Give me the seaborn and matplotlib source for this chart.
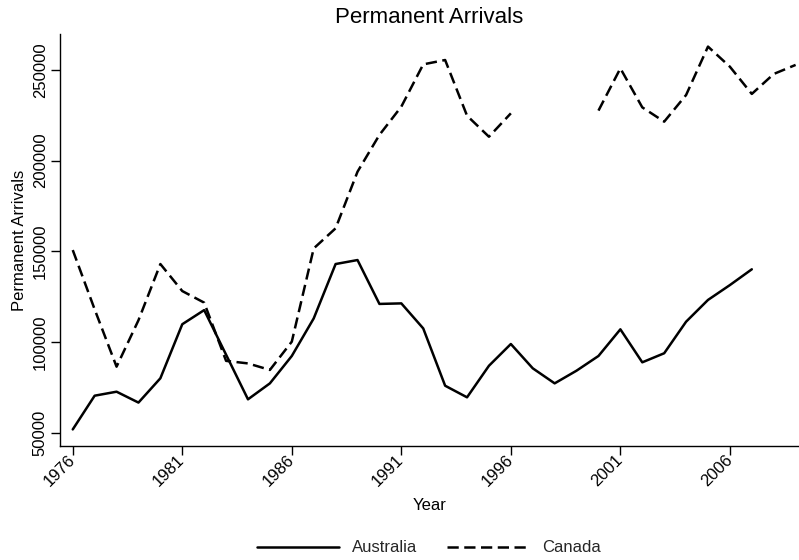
import matplotlib

matplotlib.use("Agg")
import matplotlib.pyplot as plt
import numpy as np
import pandas as pd
import seaborn as sns

# --- data -------------------------------------------------------------------
years = list(range(1976, 2010))
australia = [
    51800, 70400, 72600, 66600, 80000, 109800, 117600, 93000, 68400, 77200,
    92300, 113000, 143000, 145200, 121000, 121300, 107500, 75900, 69500, 86900,
    98900, 85500, 77200, 84200, 92300, 107000, 88800, 93800, 111200, 123200,
    131400, 140100, np.nan, np.nan,
]
canada = [
    150700, 118000, 86400, 112000, 143000, 128100, 121700, 89600, 88200, 84600,
    100200, 151600, 162700, 193900, 214200, 229800, 253100, 255500, 224800, 213200,
    226100, np.nan, np.nan, np.nan, 227600, 250900, 229400, 221500, 236200, 262900,
    251800, 236800, 247800, 252800,
]
series = {"Australia": australia, "Canada": canada}
y_ticks = [50000, 100000, 150000, 200000, 250000]
x_ticks = [1976, 1981, 1986, 1991, 1996, 2001, 2006]

# long form; a new segment starts after each gap so missing years stay empty
rows = []
seg = 0
for name, vals in series.items():
    seg += 1
    for yr, v in zip(years, vals):
        if np.isnan(v):
            seg += 1
            continue
        rows.append({"Year": yr, "Permanent Arrivals": v, "country": name, "segment": seg})
df = pd.DataFrame(rows)

sns.set_theme(style="white")
plt.rcParams["font.family"] = ["Liberation Sans", "DejaVu Sans"]

fig = plt.figure(figsize=(7.99, 5.6), dpi=100)
ax = fig.add_axes([0.0746, 0.2036, 0.925, 0.7357])

sns.lineplot(data=df, x="Year", y="Permanent Arrivals", style="country",
             units="segment", estimator=None, color="black", linewidth=1.8,
             dashes={"Australia": "", "Canada": (4.5, 2.2)}, ax=ax)

ax.set_xlim(1975.40, 2009.14)
ax.set_ylim(42666, 269850)
ax.set_xticks(x_ticks)
ax.set_yticks(y_ticks)
ax.set_yticklabels([str(t) for t in y_ticks], rotation=90, va="center")
for lab in ax.get_xticklabels():
    lab.set_rotation(45)
    lab.set_ha("right")
    lab.set_va("center")
    lab.set_rotation_mode("anchor")
ax.tick_params(axis="both", length=6.5, width=1, color="black", labelsize=12,
               labelcolor="black", pad=2, bottom=True, left=True)
sns.despine(ax=ax)
for s in ["left", "bottom"]:
    ax.spines[s].set_color("black")
    ax.spines[s].set_linewidth(1)

ax.set_xlabel("Year", fontsize=12, color="black", labelpad=6)
ax.set_ylabel("Permanent Arrivals", fontsize=12, color="black", labelpad=4)
ax.set_title("Permanent Arrivals", fontsize=16, color="black", pad=8)

sns.move_legend(ax, "center", bbox_to_anchor=(0.5, -0.2476), ncol=2,
                frameon=False, title=None, fontsize=12, handlelength=4.9,
                handletextpad=0.8, columnspacing=1.8)
for h in ax.get_legend().get_lines():
    h.set_linewidth(1.8)

fig.savefig("out.png", dpi=100)
